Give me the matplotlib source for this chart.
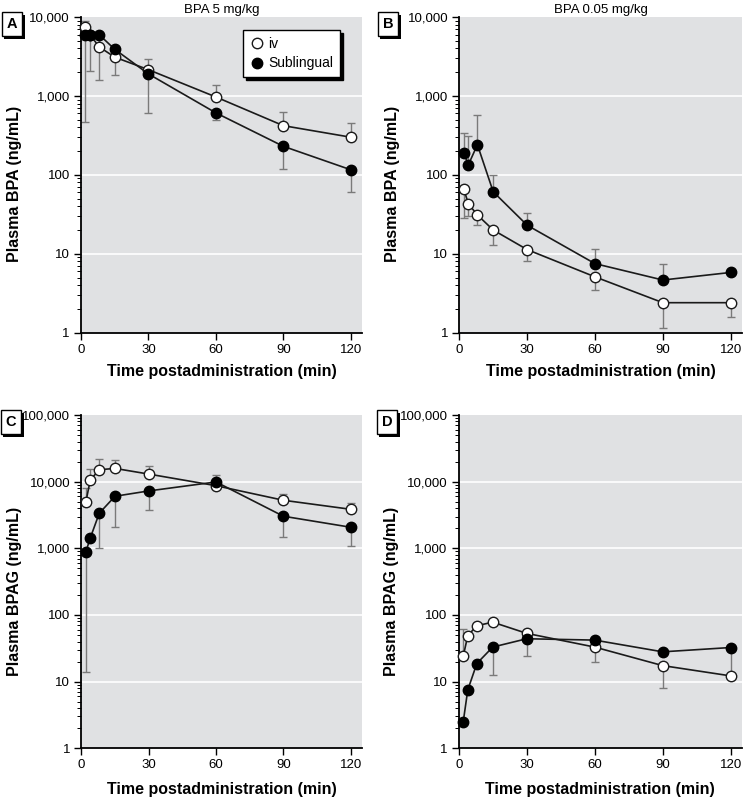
import matplotlib
matplotlib.use("Agg")
import matplotlib.pyplot as plt
import matplotlib.patheffects as pe
from matplotlib.ticker import FuncFormatter, LogLocator, NullFormatter
import numpy as np

plt.rcParams['font.family'] = ['Liberation Sans', 'DejaVu Sans']

# sampling times (min)
t = [2, 4, 8, 15, 30, 60, 90, 120]

# A: BPA, 5 mg/kg
a_iv = [7400, 6000, 4200, 3100, 2150, 970, 420, 300]
a_iv_lo = [None] * 8
a_iv_hi = [9000, None, None, None, 2900, 1380, 620, 460]
a_sl = [5900, 5900, 6000, 3900, 1900, 610, 230, 116]
a_sl_lo = [470, 2050, 1600, 1850, 600, 500, 117, 61]
a_sl_hi = [None] * 8

# B: BPA, 0.05 mg/kg
b_iv = [66, 43, 31, 20, 11.3, 5.1, 2.4, 2.4]
b_iv_lo = [28, 30, 23, 13, 8.0, 3.5, 1.16, 1.57]
b_iv_hi = [None] * 8
b_sl = [189, 134, 241, 61, 23, 7.5, 4.65, 5.8]
b_sl_lo = [None] * 8
b_sl_hi = [336, 314, 580, 100, 33, 11.4, 7.5, None]

# C: BPAG, 5 mg/kg
c_iv = [4900, 10600, 15100, 15800, 13000, 8700, 5260, 3850]
c_iv_lo = [None] * 8
c_iv_hi = [8100, 15500, 21900, 21100, 17400, 12600, 6600, 4800]
c_sl = [880, 1430, 3360, 6040, 7260, 9900, 3030, 2070]
c_sl_lo = [14, None, 1020, 2110, 3720, None, 1500, 1100]
c_sl_hi = [None] * 8

# D: BPAG, 0.05 mg/kg
d_iv = [24, 49, 69, 78, 53, 33, 17.4, 12.2]
d_iv_lo = [None, None, None, None, None, 20, 7.9, None]
d_iv_hi = [61, None, None, None, None, None, None, None]
d_sl = [2.5, 7.5, 18.7, 33, 44, 42, 28, 32.5]
d_sl_lo = [None, None, None, 12.6, 24, None, None, 13]
d_sl_hi = [None] * 8

xticks = [0, 30, 60, 90, 120]

W, H = 744, 800
fig = plt.figure(figsize=(W / 100, H / 100), dpi=100)


def px_axes(x0, y0, x1, y1):
    return fig.add_axes([x0 / W, 1 - y1 / H, (x1 - x0) / W, (y1 - y0) / H])


def err(vals, lo, hi):
    lower = [v - l if l is not None else 0 for v, l in zip(vals, lo)]
    upper = [h - v if h is not None else 0 for v, h in zip(vals, hi)]
    return [lower, upper]


def comma(v, pos):
    return f"{int(round(v)):,}"


def panel(ax, iv, iv_lo, iv_hi, sl, sl_lo, sl_hi, ymax, ylabel, title=None):
    ax.set_facecolor('#e0e1e3')
    ax.set_yscale('log')
    ax.set_ylim(1, ymax)
    ax.set_xlim(0, 125)
    for d in [10 ** k for k in range(1, int(np.log10(ymax)))]:
        ax.axhline(d, color='white', lw=1.2, zorder=0)
    ax.errorbar(t, iv, yerr=err(iv, iv_lo, iv_hi), fmt='none', ecolor='#7a7a7a',
                elinewidth=1, capsize=3, capthick=1, zorder=2)
    ax.errorbar(t, sl, yerr=err(sl, sl_lo, sl_hi), fmt='none', ecolor='#7a7a7a',
                elinewidth=1, capsize=3, capthick=1, zorder=2)
    ax.plot(t, iv, '-o', color='#1a1a1a', lw=1.2, ms=7.5, mfc='white', mec='#1a1a1a',
            mew=1, label='iv', zorder=3, clip_on=False)
    ax.plot(t, sl, '-o', color='#1a1a1a', lw=1.2, ms=7.5, mfc='black', mec='black',
            label='Sublingual', zorder=4, clip_on=False)
    for s in ['top', 'right']:
        ax.spines[s].set_visible(False)
    ax.spines['left'].set_linewidth(1.3)
    ax.spines['bottom'].set_linewidth(1.3)
    ax.set_xticks(xticks)
    ax.yaxis.set_major_locator(LogLocator(base=10, numticks=10))
    ax.yaxis.set_minor_locator(LogLocator(base=10, subs=np.arange(2, 10), numticks=20))
    ax.yaxis.set_major_formatter(FuncFormatter(comma))
    ax.yaxis.set_minor_formatter(NullFormatter())
    ax.tick_params(axis='both', which='major', labelsize=9.5, length=5, width=1,
                   direction='out', pad=3)
    ax.tick_params(axis='y', which='minor', length=3, width=0.7, direction='out')
    ax.set_xlabel('Time postadministration (min)', fontsize=11.5, fontweight='bold')
    ax.set_ylabel(ylabel, fontsize=11.5, fontweight='bold')
    ax.yaxis.set_label_coords(-0.21, 0.47)
    ax.xaxis.set_label_coords(0.5, -0.1)
    if title:
        ax.set_title(title, fontsize=9.5, pad=3)


def letter(x, y, s):
    txt = fig.text(x / W, 1 - y / H, s, fontsize=10.5, fontweight='bold', ha='center', va='center',
                   bbox=dict(boxstyle='square,pad=0.35', fc='white', ec='black', lw=1))
    txt.get_bbox_patch().set_path_effects([
        pe.SimplePatchShadow(offset=(2, -2), shadow_rgbFace='black', alpha=1), pe.Normal()])


axA = px_axes(81, 17, 362, 332.7)
axB = px_axes(459.3, 17, 742, 332.7)
axC = px_axes(81.3, 415, 362, 748.3)
axD = px_axes(458.7, 415, 742, 748.3)

panel(axA, a_iv, a_iv_lo, a_iv_hi, a_sl, a_sl_lo, a_sl_hi, 10000, 'Plasma BPA (ng/mL)', 'BPA 5 mg/kg')
panel(axB, b_iv, b_iv_lo, b_iv_hi, b_sl, b_sl_lo, b_sl_hi, 10000, 'Plasma BPA (ng/mL)', 'BPA 0.05 mg/kg')
panel(axC, c_iv, c_iv_lo, c_iv_hi, c_sl, c_sl_lo, c_sl_hi, 100000, 'Plasma BPAG (ng/mL)')
panel(axD, d_iv, d_iv_lo, d_iv_hi, d_sl, d_sl_lo, d_sl_hi, 100000, 'Plasma BPAG (ng/mL)')

leg = axA.legend(loc='upper right', bbox_to_anchor=(0.947, 0.981), fontsize=10,
                 frameon=True, fancybox=False, edgecolor='black', framealpha=1,
                 handletextpad=0.3, borderpad=0.5, labelspacing=0.4, handlelength=1.0,
                 shadow={'color': 'black', 'alpha': 1, 'ox': 2, 'oy': -2})
leg.get_frame().set_linewidth(1)
for h in leg.legend_handles:
    h.set_linestyle('None')

letter(12, 24, 'A')
letter(388, 24, 'B')
letter(11, 422, 'C')
letter(387, 422, 'D')

fig.savefig('out.png', dpi=100)
